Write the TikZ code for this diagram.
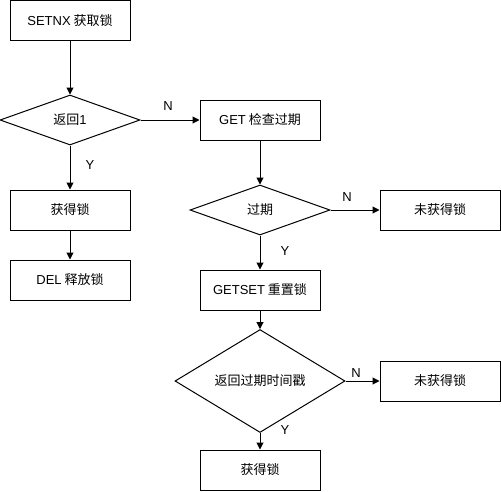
\documentclass[tikz,border=0pt]{standalone}
\usepackage{fontspec}
\setmainfont{Noto Sans CJK SC}
\newfontfamily\latf{Liberation Sans}
\usetikzlibrary{shapes.geometric,arrows.meta}
\begin{document}
\begin{tikzpicture}[x=1pt,y=-1pt,
  font=\fontsize{13}{15}\selectfont,
  box/.style={draw, line width=1pt, minimum width=120pt, minimum height=40pt, inner sep=0pt},
  dia/.style={draw, diamond, line width=1pt, inner sep=0pt},
  arr/.style={draw, line width=1pt, -{Triangle[length=7pt,width=7pt]}},
  lbl/.style={inner sep=0pt, font=\latf\fontsize{13}{15}\selectfont}]
\useasboundingbox (0,0) rectangle (501,491);
\node[box] (n1) at (70,20.5) {{\latf SETNX} 获取锁};
\node[dia, minimum width=140pt, minimum height=50pt] (d1) at (70,120) {返回{\latf 1}};
\node[box] (n2) at (260,120) {{\latf GET} 检查过期};
\node[dia, minimum width=140pt, minimum height=50pt] (d2) at (260,210) {过期};
\node[box] (n3) at (440,210) {未获得锁};
\node[box] (n4) at (70,210) {获得锁};
\node[box] (n5) at (70,280) {{\latf DEL} 释放锁};
\node[box] (n6) at (260,290) {{\latf GETSET} 重置锁};
\node[dia, minimum width=170pt, minimum height=60pt] (d3) at (260,381) {返回过期时间戳};
\node[box] (n7) at (440,381) {未获得锁};
\node[box] (n8) at (260,470) {获得锁};
\draw[arr] (n1) -- (d1);
\draw[arr] (d1) -- (n2);
\draw[arr] (d1) -- (n4);
\draw[arr] (n4) -- (n5);
\draw[arr] (n2) -- (d2);
\draw[arr] (d2) -- (n3);
\draw[arr] (d2) -- (n6);
\draw[arr] (n6) -- (d3);
\draw[arr] (d3) -- (n7);
\draw[arr] (d3) -- (n8);
\node[lbl] (lN1) at (168,106) {N};
\node[lbl] (lY1) at (90,165) {Y};
\node[lbl] (lN2) at (347,197) {N};
\node[lbl] (lY2) at (285,251) {Y};
\node[lbl] (lN3) at (356,373) {N};
\node[lbl] (lY3) at (285,430) {Y};
\end{tikzpicture}
\end{document}
